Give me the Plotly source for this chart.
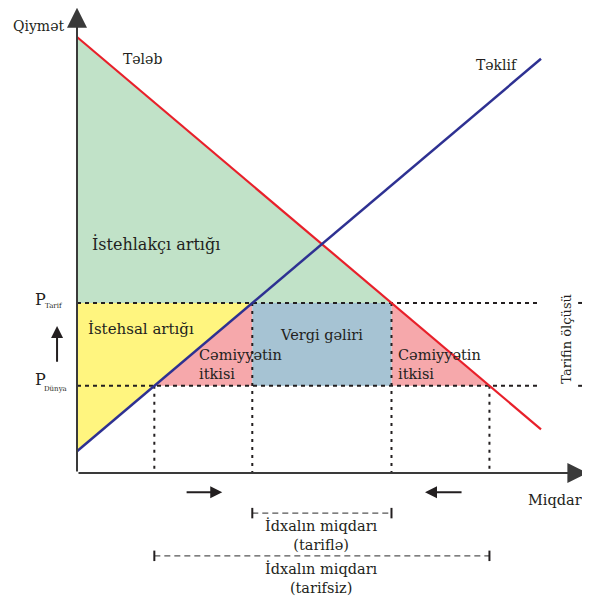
import numpy as np
import plotly.graph_objects as go

# supply / demand lines (quantity, price)
demand_q = [0, 10]
demand_p = [10, 1.0]
supply_q = [0, 10]
supply_p = [0.5, 9.5]

p_world = 2.0
p_tariff = 3.9

FONT = "DejaVu Serif"
TXT = "#231f20"
GREEN = "#c1e2c8"
YELLOW = "#fff57f"
PINK = "#f6a8ab"
BLUE = "#a6c3d3"
RED = "#e8202a"
NAVY = "#2e3192"


def q_demand(p):
    return float(np.interp(p, demand_p[::-1], demand_q[::-1]))


def q_supply(p):
    return float(np.interp(p, supply_p, supply_q))


qs_w, qs_t = q_supply(p_world), q_supply(p_tariff)
qd_w, qd_t = q_demand(p_world), q_demand(p_tariff)

fig = go.Figure()


def area(xs, ys, color):
    fig.add_trace(go.Scatter(x=xs, y=ys, fill="toself", fillcolor=color,
                             mode="lines", line=dict(width=0), hoverinfo="skip"))


def seg(xs, ys, color="#231f20", width=2, dash="solid"):
    fig.add_trace(go.Scatter(x=xs, y=ys, mode="lines", hoverinfo="skip",
                             line=dict(color=color, width=width, dash=dash)))


# surplus areas
area([0, qd_t, 0], [demand_p[0], p_tariff, p_tariff], GREEN)
area([0, qs_t, supply_q[0]], [p_tariff, p_tariff, supply_p[0]], YELLOW)
area([qs_w, qs_t, qs_t], [p_world, p_tariff, p_world], PINK)
area([qd_t, qd_w, qd_t], [p_tariff, p_world, p_world], PINK)
area([qs_t, qd_t, qd_t, qs_t], [p_world, p_world, p_tariff, p_tariff], BLUE)

# dotted guides
seg([0, 10], [p_tariff, p_tariff], width=2, dash="4px,4px")
seg([0, 10], [p_world, p_world], width=2, dash="4px,4px")
for q, p in [(qs_w, p_world), (qs_t, p_tariff), (qd_t, p_tariff), (qd_w, p_world)]:
    seg([q, q], [p, 0], width=2, dash="3px,5px")

# curves
seg(demand_q, demand_p, color=RED, width=2.2)
seg(supply_q, supply_p, color=NAVY, width=2.5)

# import brackets
br_dash = "6px,4px"
for (a, b, y) in [(qs_t, qd_t, -0.92), (qs_w, qd_w, -1.9)]:
    seg([a, b], [y, y], color="#555", width=1.3, dash=br_dash)
    seg([a, a], [y - 0.12, y + 0.12], width=2)
    seg([b, b], [y - 0.12, y + 0.12], width=2)

# tariff size bracket on the right
xr = 10.9
seg([xr, xr], [p_world, p_tariff], color="#555", width=1.3, dash=br_dash)
seg([xr - 0.1, xr + 0.1], [p_tariff, p_tariff], width=2)
seg([xr - 0.1, xr + 0.1], [p_world, p_world], width=2)

annotations = []


def label(x, y, text, size=14.5, xanchor="center", align="center", angle=0):
    annotations.append(dict(x=x, y=y, text=text, showarrow=False, xanchor=xanchor,
                            align=align, textangle=angle,
                            font=dict(family=FONT, size=size, color=TXT)))


def arrow(x0, y0, x1, y1, color="#231f20", width=2, size=1.2):
    annotations.append(dict(x=x1, y=y1, ax=x0, ay=y0, xref="x", yref="y",
                            axref="x", ayref="y", text="", showarrow=True,
                            arrowhead=2, arrowsize=size, arrowwidth=width,
                            arrowcolor=color, standoff=0))


# axes
arrow(0, 0, 11.0, 0, color="#3a3a3a", width=2, size=2)
arrow(0, 0, 0, 10.67, color="#3a3a3a", width=2, size=2)

label(-0.84, 10.25, "Qiymət", size=14)
label(10.3, -0.62, "Miqdar")
label(1.42, 9.5, "Tələb", size=14)
label(9.05, 9.36, "Təklif", size=14)
label(0.28, 5.25, "İstehlakçı artığı", size=16, xanchor="left")
label(0.19, 3.3, "İstehsal artığı", size=15, xanchor="left")
label(qs_t - 1.2, 2.5, "Cəmiyyətin<br>itkisi", xanchor="left", align="left")
label((qs_t + qd_t) / 2, 3.16, "Vergi gəliri")
label(qd_t + 0.1, 2.5, "Cəmiyyətin<br>itkisi", xanchor="left", align="left")
label(10.56, 3.08, "Tarifin ölçüsü", size=13, angle=-90)
label((qs_t + qd_t) / 2, -1.42, "İdxalın miqdarı<br>(tariflə)")
label((qs_w + qd_w) / 2, -2.41, "İdxalın miqdarı<br>(tarifsiz)")

# price labels
label(-0.78, p_tariff + 0.07, "P", size=16)
label(-0.5, p_tariff - 0.08, "Tarif", size=7)
label(-0.78, p_world + 0.15, "P", size=16)
label(-0.47, p_world - 0.08, "Dünya", size=7)

# movement arrows
arrow(-0.43, 2.52, -0.43, 3.37, width=2, size=1.2)
arrow(2.33, -0.44, 3.13, -0.44, width=2, size=1.2)
arrow(8.32, -0.44, 7.5, -0.44, width=2, size=1.2)

# the page puts the figure 8px in from its top-left corner
off = 8
fig.update_layout(
    width=590 - off, height=599 - off,
    margin=dict(l=0, r=0, t=0, b=0),
    plot_bgcolor="white", paper_bgcolor="white",
    showlegend=False,
    annotations=annotations,
    xaxis=dict(range=[(off - 77) / 46.4, (590 - 77) / 46.4], visible=False, fixedrange=True),
    yaxis=dict(range=[(473 - 599) / 43.6, (473 - off) / 43.6], visible=False, fixedrange=True),
)

fig.write_html("out.html")
